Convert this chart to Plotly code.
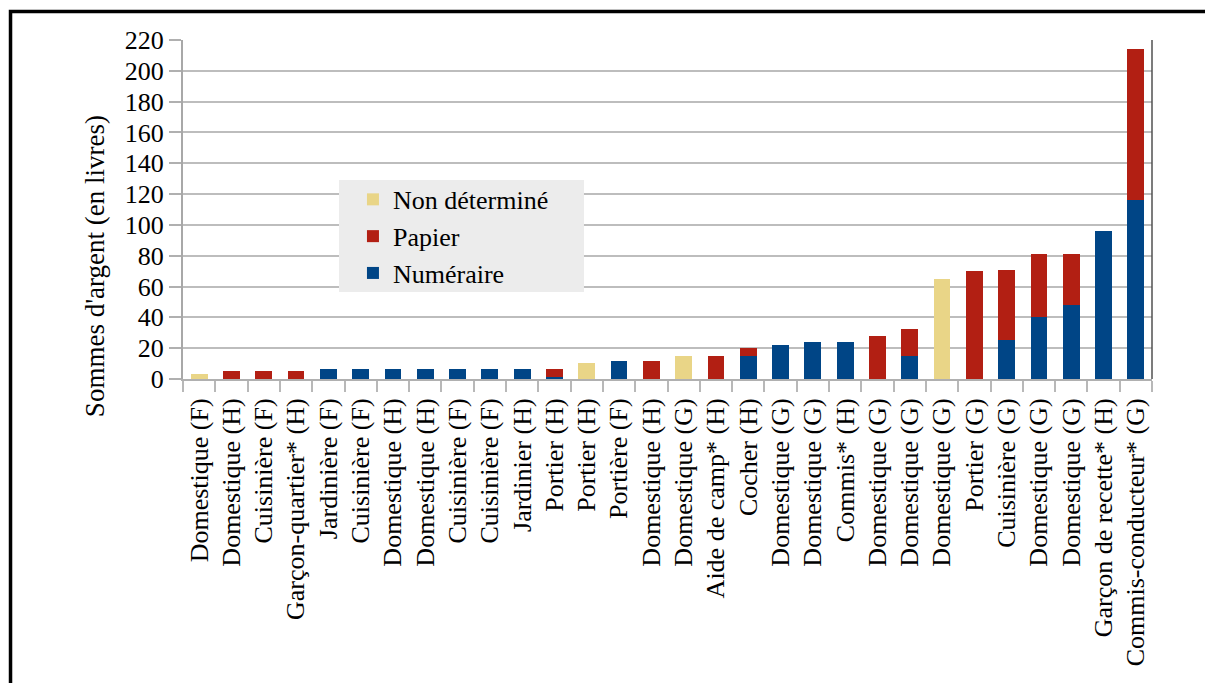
import plotly.graph_objects as go

categories = [
    "Domestique (F)", "Domestique (H)", "Cuisinière (F)", "Garçon-quartier* (H)",
    "Jardinière (F)", "Cuisinière (F)", "Domestique (H)", "Domestique (H)",
    "Cuisinière (F)", "Cuisinière (F)", "Jardinier (H)", "Portier (H)",
    "Portier (H)", "Portière (F)", "Domestique (H)", "Domestique (G)",
    "Aide de camp* (H)", "Cocher (H)", "Domestique (G)", "Domestique (G)",
    "Commis* (H)", "Domestique (G)", "Domestique (G)", "Domestique (G)",
    "Portier (G)", "Cuisinière (G)", "Domestique (G)", "Domestique (G)",
    "Garçon de recette* (H)", "Commis-conducteur* (G)",
]
numeraire = [0, 0, 0, 0, 6.5, 6.5, 6.5, 6.5, 6.5, 6.5, 6.5, 1, 0, 12, 0, 0, 0, 15,
             22, 24, 24, 0, 15, 0, 0, 25.5, 40, 48, 96, 116]
papier = [0, 5, 5, 5, 0, 0, 0, 0, 0, 0, 0, 5.5, 0, 0, 12, 0, 15, 5,
          0, 0, 0, 28, 17.5, 0, 70, 45.5, 41, 33, 0, 98]
non_determine = [3, 0, 0, 0, 0, 0, 0, 0, 0, 0, 0, 0, 10.5, 0, 0, 15, 0, 0,
                 0, 0, 0, 0, 0, 65, 0, 0, 0, 0, 0, 0]
y_ticks = [0, 20, 40, 60, 80, 100, 120, 140, 160, 180, 200, 220]
y_title = "Sommes d'argent (en livres)"

FONT = "Times New Roman, Liberation Serif, DejaVu Serif, serif"
positions = list(range(len(categories)))

fig = go.Figure()
fig.add_trace(go.Bar(x=positions, y=numeraire, name="Numéraire", marker_color="#004586",
                     marker_line_width=0))
fig.add_trace(go.Bar(x=positions, y=papier, name="Papier", marker_color="#b21f13",
                     marker_line_width=0))
fig.add_trace(go.Bar(x=positions, y=non_determine, name="Non déterminé", marker_color="#e9d587",
                     marker_line_width=0))

fig.update_layout(
    width=1205, height=683,
    barmode="stack", bargap=0.48,
    paper_bgcolor="white", plot_bgcolor="white",
    margin=dict(l=183, r=53, t=40, b=304),
    font=dict(family=FONT, size=26, color="black"),
    showlegend=True,
    legend=dict(
        x=0.1754, y=0.599, xanchor="left", yanchor="top",
        bgcolor="rgba(0,0,0,0)", traceorder="reversed",
        font=dict(family=FONT, size=26, color="black"),
        itemwidth=30, tracegroupgap=0,
    ),
    xaxis=dict(
        range=[-0.5, len(categories) - 0.5],
        tickvals=positions, ticktext=categories, tickangle=-90,
        ticks="outside", ticklen=7, tickcolor="rgba(0,0,0,0)",
        showgrid=False, zeroline=False,
        showline=True, linecolor="#b0b0b0", linewidth=2,
        automargin=False,
        tickfont=dict(family=FONT, size=26, color="black"),
        minor=dict(tickvals=[p - 0.5 for p in positions] + [len(categories) - 0.5],
                   ticks="outside", ticklen=11, tickcolor="#b8b8b8", tickwidth=2,
                   showgrid=False),
    ),
    yaxis=dict(
        range=[0, 220], tickvals=y_ticks,
        ticks="outside", ticklen=12, tickcolor="#b0b0b0", tickwidth=1.5,
        showgrid=True, gridcolor="#bdbdbd", gridwidth=1.5,
        zeroline=False, showline=True, linecolor="#a8a8a8", linewidth=2,
        automargin=False,
        tickfont=dict(family=FONT, size=26, color="black"),
    ),
    annotations=[
        dict(text=y_title, xref="paper", yref="paper", x=-0.0908, y=0.333,
             xanchor="center", yanchor="middle", textangle=-90, showarrow=False,
             font=dict(family=FONT, size=27, color="black")),
    ],
    shapes=[
        dict(type="rect", xref="paper", yref="paper", x0=0.161, x1=0.4138, y0=0.2566, y1=0.587,
             line=dict(width=0), fillcolor="#ececec", layer="above"),
        dict(type="line", xref="paper", yref="paper", x0=1, x1=1, y0=0, y1=1,
             line=dict(color="#505050", width=1.5)),
        dict(type="rect", xref="paper", yref="paper", x0=-0.178, x1=1.2, y0=-1.2, y1=1.084,
             line=dict(color="black", width=3.5), fillcolor="rgba(0,0,0,0)", layer="above"),
    ],
)

fig.write_html("out.html", config={"displayModeBar": False},
               post_script="document.body.style.margin='0';")
